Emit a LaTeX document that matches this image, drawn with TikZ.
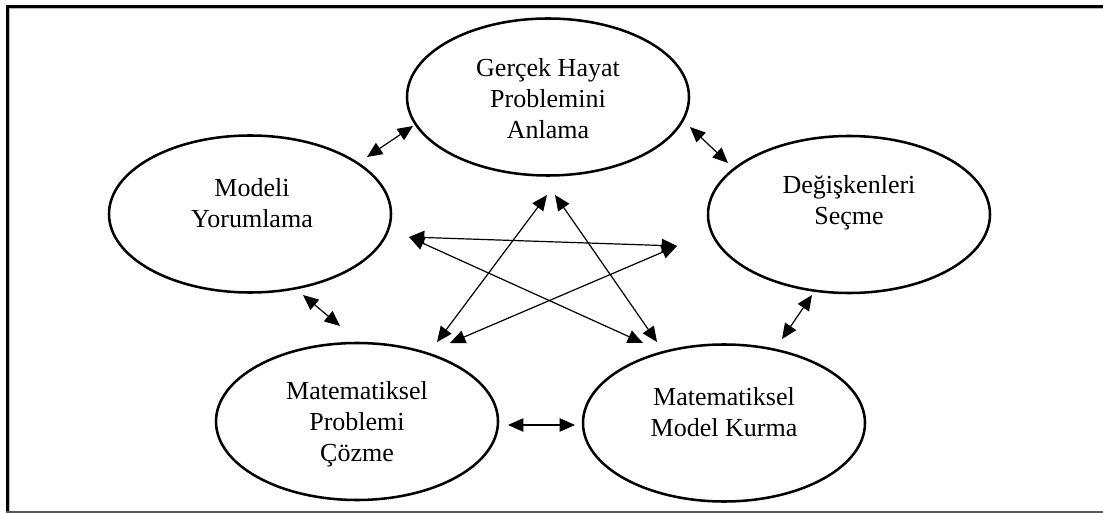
\documentclass[tikz,border=0pt]{standalone}
\usepackage{fontspec}
\setmainfont{Liberation Serif}
\usetikzlibrary{arrows.meta,shapes.geometric}
\begin{document}
\begin{tikzpicture}[x=0.75pt,y=-0.75pt,
  ell/.style={draw, ellipse, line width=1.9pt, minimum width=211.5pt, minimum height=117.75pt, inner sep=0pt},
  txt/.style={align=center, font=\fontsize{19.5}{23.25}\selectfont, inner sep=0pt},
  dbl/.style={{Triangle[length=11.5pt,width=10pt]}-{Triangle[length=11.5pt,width=10pt]}, line width=0.9pt}]
\useasboundingbox (0,0) rectangle (1103,513);
% frame
\fill[black] (6,5) rectangle (9,513);
\fill[black] (6,5) rectangle (1103,8);
\fill[gray!55] (9,8) rectangle (10,511);
\fill[gray!55] (9,8) rectangle (1103,9);
\fill[black!65] (6,511) rectangle (1103,512.6);
% ellipses
\node[ell] (top) at (548,97) {};
\node[ell] (left) at (250,214) {};
\node[ell] (right) at (849,214.5) {};
\node[ell] (bl) at (357,421.5) {};
\node[ell] (br) at (724,423) {};
% texts
\node[txt] (toptxt) at (548,99) {Gerçek Hayat\\Problemini\\Anlama};
\node[txt] (lefttxt) at (252,203) {Modeli\\Yorumlama};
\node[txt] (righttxt) at (849,203) {Değişkenleri\\Seçme};
\node[txt] (bltxt) at (357,424) {Matematiksel\\Problemi\\Çözme};
\node[txt] (brtxt) at (724,412) {Matematiksel\\Model Kurma};
% short arrow ends
\coordinate (s1a) at (367,157); \coordinate (s1b) at (413,126);
\coordinate (s2a) at (690,127); \coordinate (s2b) at (728,163);
\coordinate (s3a) at (303,295); \coordinate (s3b) at (340,326);
\coordinate (s4a) at (508,425); \coordinate (s4b) at (575,425);
\coordinate (s5a) at (812,295); \coordinate (s5b) at (782,339);
\draw[dbl] (s1a) -- (s1b);
\draw[dbl] (s2a) -- (s2b);
\draw[dbl] (s3a) -- (s3b);
\draw[dbl] (s4a) -- (s4b);
\draw[dbl] (s5a) -- (s5b);
% star ends
\coordinate (T1) at (547,195); \coordinate (T2) at (555,195);
\coordinate (L) at (409,237); \coordinate (R) at (677,246);
\coordinate (BL1) at (437,342); \coordinate (BL2) at (450,343);
\coordinate (BR1) at (643,343); \coordinate (BR2) at (657,342);
\draw[dbl] (T1) -- (BL1);
\draw[dbl] (T2) -- (BR2);
\draw[dbl] (L) -- (R);
\draw[dbl] (L) -- (BR1);
\draw[dbl] (R) -- (BL2);
\end{tikzpicture}
\end{document}
